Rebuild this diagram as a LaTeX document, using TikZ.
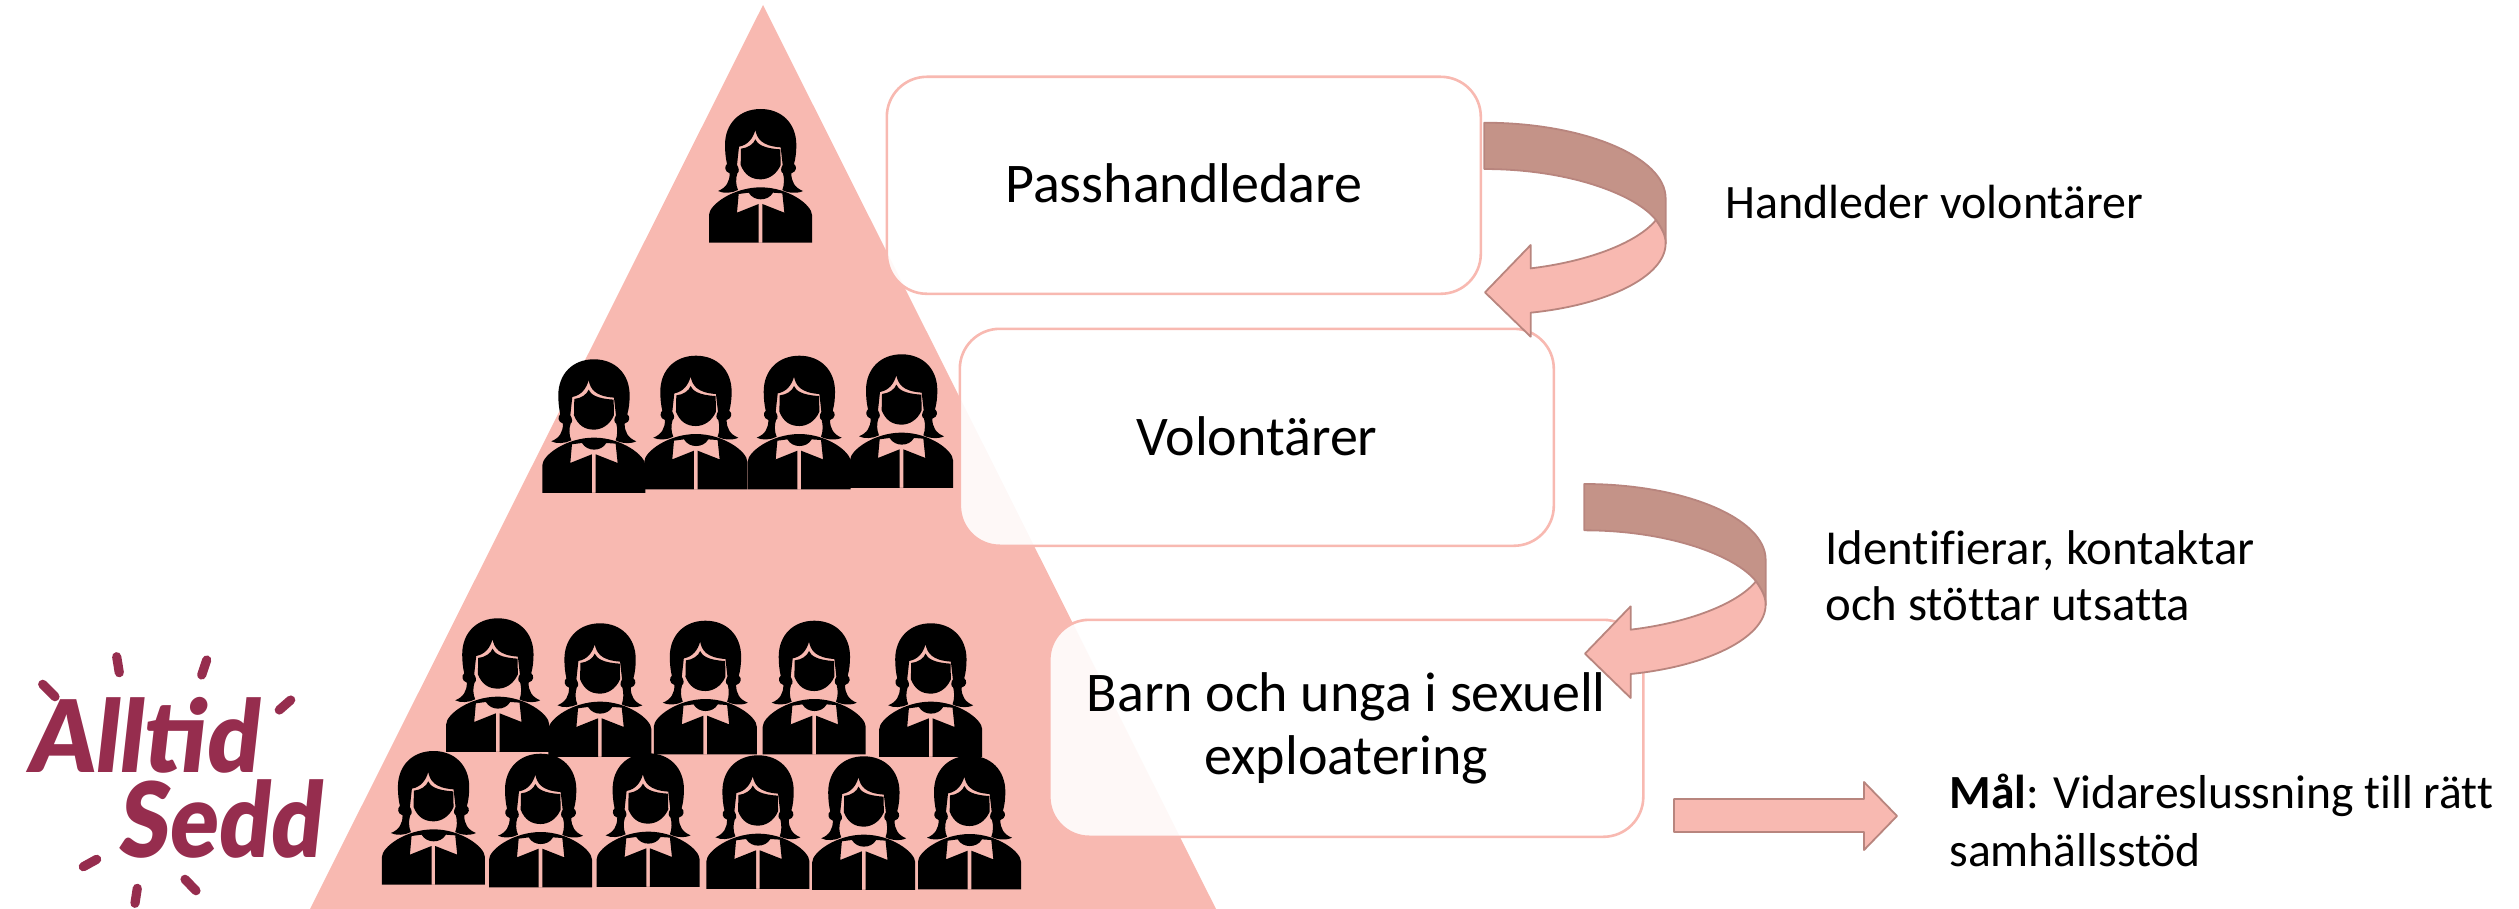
\documentclass[tikz,border=0pt]{standalone}
\usepackage{fontspec}
\setmainfont{Carlito}[Ligatures=NoCommon]
\newfontfamily\logofont{Lato Black}[ItalicFont=Lato Black Italic,FakeSlant=0.12]
\definecolor{pinkfill}{HTML}{F8B9B1}
\definecolor{pinkedge}{HTML}{B8857E}
\definecolor{darkband}{HTML}{C49388}
\definecolor{logored}{HTML}{962D4E}
\tikzset{
  x=0.5pt,y=-0.5pt,
  tierbox/.style={draw=pinkfill,line width=1.3pt,fill=white,fill opacity=.9,text opacity=1,rounded corners=20pt,
    minimum width=297pt,minimum height=108.5pt,inner sep=0pt,anchor=north west,align=center,font=\fontsize{28}{31.5}\selectfont},
  sidetext/.style={anchor=north west,inner sep=0pt,align=left,font=\fontsize{24}{28}\selectfont},
  ray/.style={line width=4.6pt,line cap=round,draw=logored},
  logotext/.style={anchor=base west,inner sep=0pt,text=logored},
  person/.pic={
    \begin{scope}[scale=1/3,shift={(-88,-57)}]
    \fill[black,even odd rule]
      (243,57) .. controls (180,57) and (136,100) .. (136,165)
      .. controls (136,185) and (138,205) .. (142,222)
      .. controls (134,228) and (134,245) .. (150,250)
      .. controls (150,275) and (140,293) .. (115,303)
      .. controls (130,311) and (157,310) .. (175,300)
      .. controls (168,285) and (168,265) .. (173,250)
      .. controls (180,245) and (178,235) .. (172,225)
      -- (178,170)
      .. controls (205,165) and (220,145) .. (227,120)
      .. controls (232,145) and (245,168) .. (303,172)
      -- (309,225)
      .. controls (303,235) and (302,245) .. (310,250)
      .. controls (314,265) and (314,285) .. (308,300)
      .. controls (325,310) and (355,311) .. (370,303)
      .. controls (345,293) and (335,275) .. (335,250)
      .. controls (352,245) and (352,228) .. (343,222)
      .. controls (348,205) and (350,185) .. (350,165)
      .. controls (350,100) and (306,57) .. (243,57) -- cycle;
    \fill[black]
      (184,176) .. controls (205,174) and (222,162) .. (227,148)
      .. controls (233,162) and (250,175) .. (302,178)
      -- (303,225)
      .. controls (290,255) and (265,268) .. (243,268)
      .. controls (215,268) and (195,255) .. (183,225) -- cycle;
    \fill[black,even odd rule]
      (88,375) .. controls (88,345) and (160,292) .. (243,292)
      .. controls (326,292) and (397,345) .. (397,375)
      -- (397,458) -- (88,458) -- cycle
      (177,312) -- (207,308)
      .. controls (215,322) and (230,328) .. (243,328)
      .. controls (258,328) and (272,322) .. (280,308)
      -- (308,310) -- (314,368) -- (248,342) -- (248,458) -- (237,458) -- (237,342) -- (172,368) -- cycle;
    \end{scope}
  },
  curlarrow/.pic={
    \begin{scope}[scale=1/3,shift={(-133,-68)}]
    \filldraw[fill=darkband,draw=pinkedge,line width=.9pt,line join=round]
      (133,68) .. controls (430,68) and (677,170) .. (677,295)
      -- (677,430) .. controls (677,405) and (665,385) .. (648,360)
      .. controls (590,285) and (390,207) .. (133,207) -- cycle;
    \filldraw[fill=pinkfill,draw=pinkedge,line width=.9pt,line join=round]
      (648,360) .. controls (590,430) and (440,485) .. (272,505)
      -- (272,435) -- (135,577) -- (272,710) -- (272,638)
      .. controls (500,615) and (677,530) .. (677,430)
      .. controls (677,405) and (665,385) .. (648,360) -- cycle;
    \end{scope}
  }
}
\begin{document}
\begin{tikzpicture}
\useasboundingbox (0,0) rectangle (2519,909);
\fill[pinkfill] (763,5) -- (1216,909) -- (310,909) -- cycle;
% people
\foreach \px/\py in {709/109,
  542.3/359.3,644.3/355.7,747.7/355.7,850/354.3,
  446.2/618.3,548.4/623.3,653.8/620.7,762.7/620.7,879.2/623.3,
  381.9/751,489/753.7,596.6/753.3,706.4/755.3,812.2/756.3,918/755.7}
  \pic at (\px,\py) {person};
% tiers
\node[tierbox] (handl) at (885.5,75.5) {\raisebox{2pt}{Passhandledare}};
\node[tierbox] (vol) at (958.5,327.5) {\raisebox{1pt}{Volontärer}};
\node[tierbox] (barn) at (1048,618.5) {Barn och unga i sexuell\\exploatering};
% arrows
\pic at (1484.3,122.7) {curlarrow};
\pic at (1584.3,484) {curlarrow};
\filldraw[fill=pinkfill,draw=pinkedge,line width=.9pt,line join=round]
  (1674,799) -- (1864,799) -- (1864,782) -- (1897,816) -- (1864,850) -- (1864,832) -- (1674,832) -- cycle;
% side texts
\node[sidetext] (t1) at (1725,185) {Handleder volontärer};
\node[sidetext,font=\fontsize{24.4}{28}\selectfont] (t2) at (1825,530) {Identifierar, kontaktar\\och stöttar utsatta};
\node[sidetext,font=\fontsize{23.8}{29}\selectfont] (t3) at (1949,774) {\textbf{Mål}: Vidareslussning till rätt\\samhällsstöd};
% logo
\node[logotext,xscale=.93] (alltid) at (27,772) {\logofont\fontsize{50}{50}\selectfont Alltid};
\node[logotext,xscale=.87] (sedd) at (117,857) {\logofont\fontsize{52}{52}\selectfont Sedd};
\draw[ray] (116.7,656.7) -- (119.3,672.7);
\draw[ray] (206.7,660) -- (201.7,675);
\draw[ray] (42.7,684.3) -- (55,696.7);
\draw[ray] (290.7,700) -- (279.3,710);
\draw[ray] (96.7,859.3) -- (83.3,866.7);
\draw[ray] (137.3,888.3) -- (135,903.3);
\draw[ray] (185,879.3) -- (196,890.7);
\end{tikzpicture}
\end{document}
